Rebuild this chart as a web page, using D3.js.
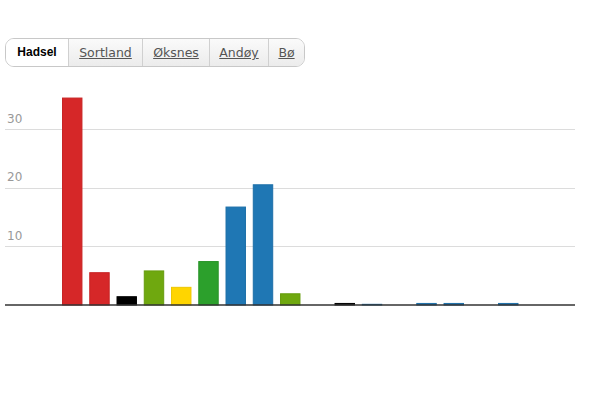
<!DOCTYPE html>
<html>
<head>
<meta charset="utf-8">
<script src="https://cdn.jsdelivr.net/npm/d3@7"></script>
<style>
  body { margin: 0; background: #fff; font-family: "DejaVu Sans", sans-serif; }
  #tabs { position: absolute; left: 5px; top: 38px; height: 27px; display: flex;
          border: 1px solid #c8c8c8; border-radius: 9px; overflow: hidden; }
  #tabs div { height: 27px; line-height: 27px; font-size: 12.5px; text-align: center;
              border-left: 1px solid #d0d0d0; background: linear-gradient(#fafafa, #ececec);
              color: #555; text-decoration: underline; box-sizing: border-box; }
  #tabs div.on { background: #fff; color: #000; font-weight: bold; text-decoration: none; border-left: none;
                 font-family: "Liberation Sans", Arial, sans-serif; font-size: 12px; }
  svg { position: absolute; left: 0; top: 0; }
</style>
</head>
<body>
<div id="tabs"></div>
<svg id="chart" width="600" height="410"></svg>
<script>
var tabs = ["Hadsel", "Sortland", "Øksnes", "Andøy", "Bø"];
var tabWidths = [62, 74, 67, 59, 36];

var parties = ["Ap", "SV", "Rødt", "Sp", "KrF", "MDG", "H", "FrP", "V", "Pp", "NKP", "Kyst", "Dem", "Lib", "Sam", "Pir", "Kp", "Aa", "Bl"];
var values = [35.4, 5.6, 1.5, 5.9, 3.1, 7.5, 16.8, 20.6, 2.0, 0, 0.35, 0.2, 0, 0.35, 0.35, 0, 0.35, 0, 0];
var colors = ["#d62728", "#d62728", "#000000", "#6fa80f", "#ffd500", "#2ca02c", "#1f77b4", "#1f77b4", "#6fa80f", "#1f77b4",
              "#000000", "#1f77b4", "#1f77b4", "#1f77b4", "#1f77b4", "#1f77b4", "#1f77b4", "#1f77b4", "#1f77b4"];
var yTicks = [10, 20, 30];

d3.select("#tabs").selectAll("div").data(tabs).enter().append("div")
  .attr("class", function(d, i){ return i == 0 ? "on" : ""; })
  .style("width", function(d, i){ return tabWidths[i] + "px"; })
  .text(function(d){ return d; });

var svg = d3.select("#chart");

var x = d3.scaleBand().domain(parties).range([58.6, 576.4]).paddingInner(0.25).paddingOuter(0.125);
var y = d3.scaleLinear().domain([0, 30]).range([305, 129.2]);

// gridlines + labels
svg.selectAll(".grid").data(yTicks).enter().append("line")
  .attr("x1", 5).attr("x2", 575)
  .attr("y1", function(d){ return Math.round(y(d)) + 0.5; })
  .attr("y2", function(d){ return Math.round(y(d)) + 0.5; })
  .style("stroke", "#dcdcdc").style("stroke-width", 1);

svg.selectAll(".lab").data(yTicks).enter().append("text")
  .attr("x", 7).attr("y", function(d){ return y(d) - 6.5; })
  .text(function(d){ return d; })
  .style("font-family", "DejaVu Sans").style("font-size", "12px").style("fill", "#999");

svg.selectAll(".bar").data(values).enter().append("rect")
  .attr("x", function(d, i){ return x(parties[i]) + 0.5; })
  .attr("width", x.bandwidth() - 1)
  .attr("y", function(d){ return y(d) + 0.5; })
  .attr("height", function(d){ return Math.max(0, y(0) - y(d) - 0.5); })
  .style("fill", function(d, i){ return colors[i]; })
  .style("stroke", function(d, i){ return d3.color(colors[i]).darker(0.2); })
  .style("stroke-width", 1)
  .style("display", function(d){ return d > 0 ? null : "none"; });

svg.append("line").attr("x1", 5).attr("x2", 575).attr("y1", 305).attr("y2", 305)
  .style("stroke", "#333").style("stroke-width", 1.5);
</script>
</body>
</html>
